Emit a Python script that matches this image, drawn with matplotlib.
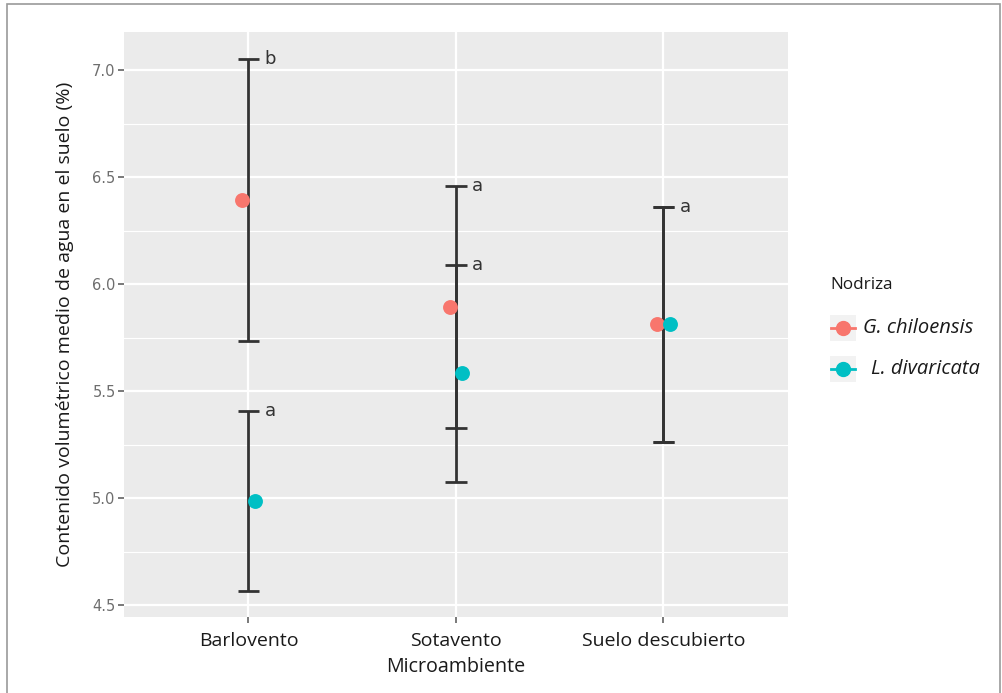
import numpy as np
import matplotlib
matplotlib.use("Agg")
import matplotlib.pyplot as plt
from matplotlib.lines import Line2D
from matplotlib.patches import Rectangle

# Data
microambientes = ["Barlovento", "Sotavento", "Suelo descubierto"]
nodrizas = ["G. chiloensis", "L. divaricata"]
media_g = [6.393, 5.893, 5.812]
error_g = [0.658, 0.565, 0.549]
media_l = [4.986, 5.582, 5.812]
error_l = [0.421, 0.507, 0.549]
letras_g = ["b", "a", "a"]
letras_l = ["a", "a", ""]

colores = ["#F8766D", "#00BFC4"]
panel_bg = "#EBEBEB"
fuente = "Open Sans"

W, H = 1003, 693
fig = plt.figure(figsize=(W / 100, H / 100), dpi=100)
fig.patch.set_facecolor("white")

# outer frame
fig.patches.append(Rectangle((7 / W, -0.05), (1000 - 7) / W, 1 - 4 / H + 0.05,
                             transform=fig.transFigure, fill=False,
                             edgecolor="#9a9a9a", linewidth=1.2))

left, right = 124 / W, 788 / W
bottom, top = 1 - 617 / H, 1 - 32 / H
ax = fig.add_axes([left, bottom, right - left, top - bottom])
ax.set_facecolor(panel_bg)
for s in ax.spines.values():
    s.set_visible(False)

ax.set_xlim(0.4, 3.6)
ax.set_ylim(4.444, 7.178)

yt = np.arange(4.5, 7.01, 0.5)
ax.set_yticks(yt)
ax.set_yticklabels([f"{v:.1f}" for v in yt])
ax.set_yticks(np.arange(4.75, 7.0, 0.5), minor=True)
x = np.arange(1, len(microambientes) + 1)
ax.set_xticks(x)
ax.set_xticklabels(microambientes)

ax.grid(True, which="major", color="white", linewidth=1.6, zorder=0)
ax.grid(True, which="minor", axis="y", color="white", linewidth=0.8, zorder=0)
ax.set_axisbelow(True)

ax.tick_params(axis="y", which="major", length=4, width=1.1, color="#555555",
               labelcolor="#6e6e6e", labelsize=10.5, pad=2)
ax.tick_params(axis="x", which="major", length=4, width=1.1, color="#555555",
               labelcolor="#1a1a1a", labelsize=14, pad=7)
ax.tick_params(which="minor", length=0)
for lab in ax.get_xticklabels():
    lab.set_fontfamily(fuente)

dodge = 0.03
cap = 0.053
bar_kw = dict(color="#333333", linewidth=2.0, zorder=3, solid_capstyle="butt")

for medias, errores, letras, off, col in [
        (media_g, error_g, letras_g, -dodge, colores[0]),
        (media_l, error_l, letras_l, dodge, colores[1])]:
    for xi, m, e, let in zip(x, medias, errores, letras):
        lo, hi = m - e, m + e
        ax.plot([xi, xi], [lo, hi], **bar_kw)
        ax.plot([xi - cap, xi + cap], [hi, hi], **bar_kw)
        ax.plot([xi - cap, xi + cap], [lo, lo], **bar_kw)
        if let:
            ax.text(xi + cap + 0.025, hi, let, ha="left", va="center",
                    fontsize=13, color="#333333", zorder=5)
    ax.scatter(x + off, medias, s=115, color=col, zorder=4, linewidths=0)

ax.set_xlabel("Microambiente", fontsize=14.2, family=fuente, color="#1a1a1a",
              labelpad=5)
ax.set_ylabel("Contenido volumétrico medio de agua en el suelo (%)", fontsize=14,
              family=fuente, color="#1a1a1a", labelpad=13)

# legend
fig.text(830 / W, 1 - 285 / H, "Nodriza", fontsize=12.3, family=fuente,
         color="#1a1a1a", ha="left", va="center")
for i, (nombre, col) in enumerate(zip(nodrizas, colores)):
    yc = 328 + 41 * i
    fig.patches.append(Rectangle(((830) / W, 1 - (yc + 13) / H), 26 / W, 26 / H,
                                 transform=fig.transFigure, facecolor="#F2F2F2",
                                 edgecolor="none"))
    fig.lines.append(Line2D([831 / W, 855 / W], [1 - yc / H, 1 - yc / H],
                            transform=fig.transFigure, color=col, linewidth=2))
    fig.lines.append(Line2D([843 / W], [1 - yc / H], transform=fig.transFigure,
                            marker="o", markersize=10, color=col, linewidth=0))
    fig.text((863 + 8 * i) / W, 1 - yc / H, nombre, fontsize=14.5, family=fuente,
             style="italic", color="#1a1a1a", ha="left", va="center")

fig.savefig("out.png", dpi=100)
